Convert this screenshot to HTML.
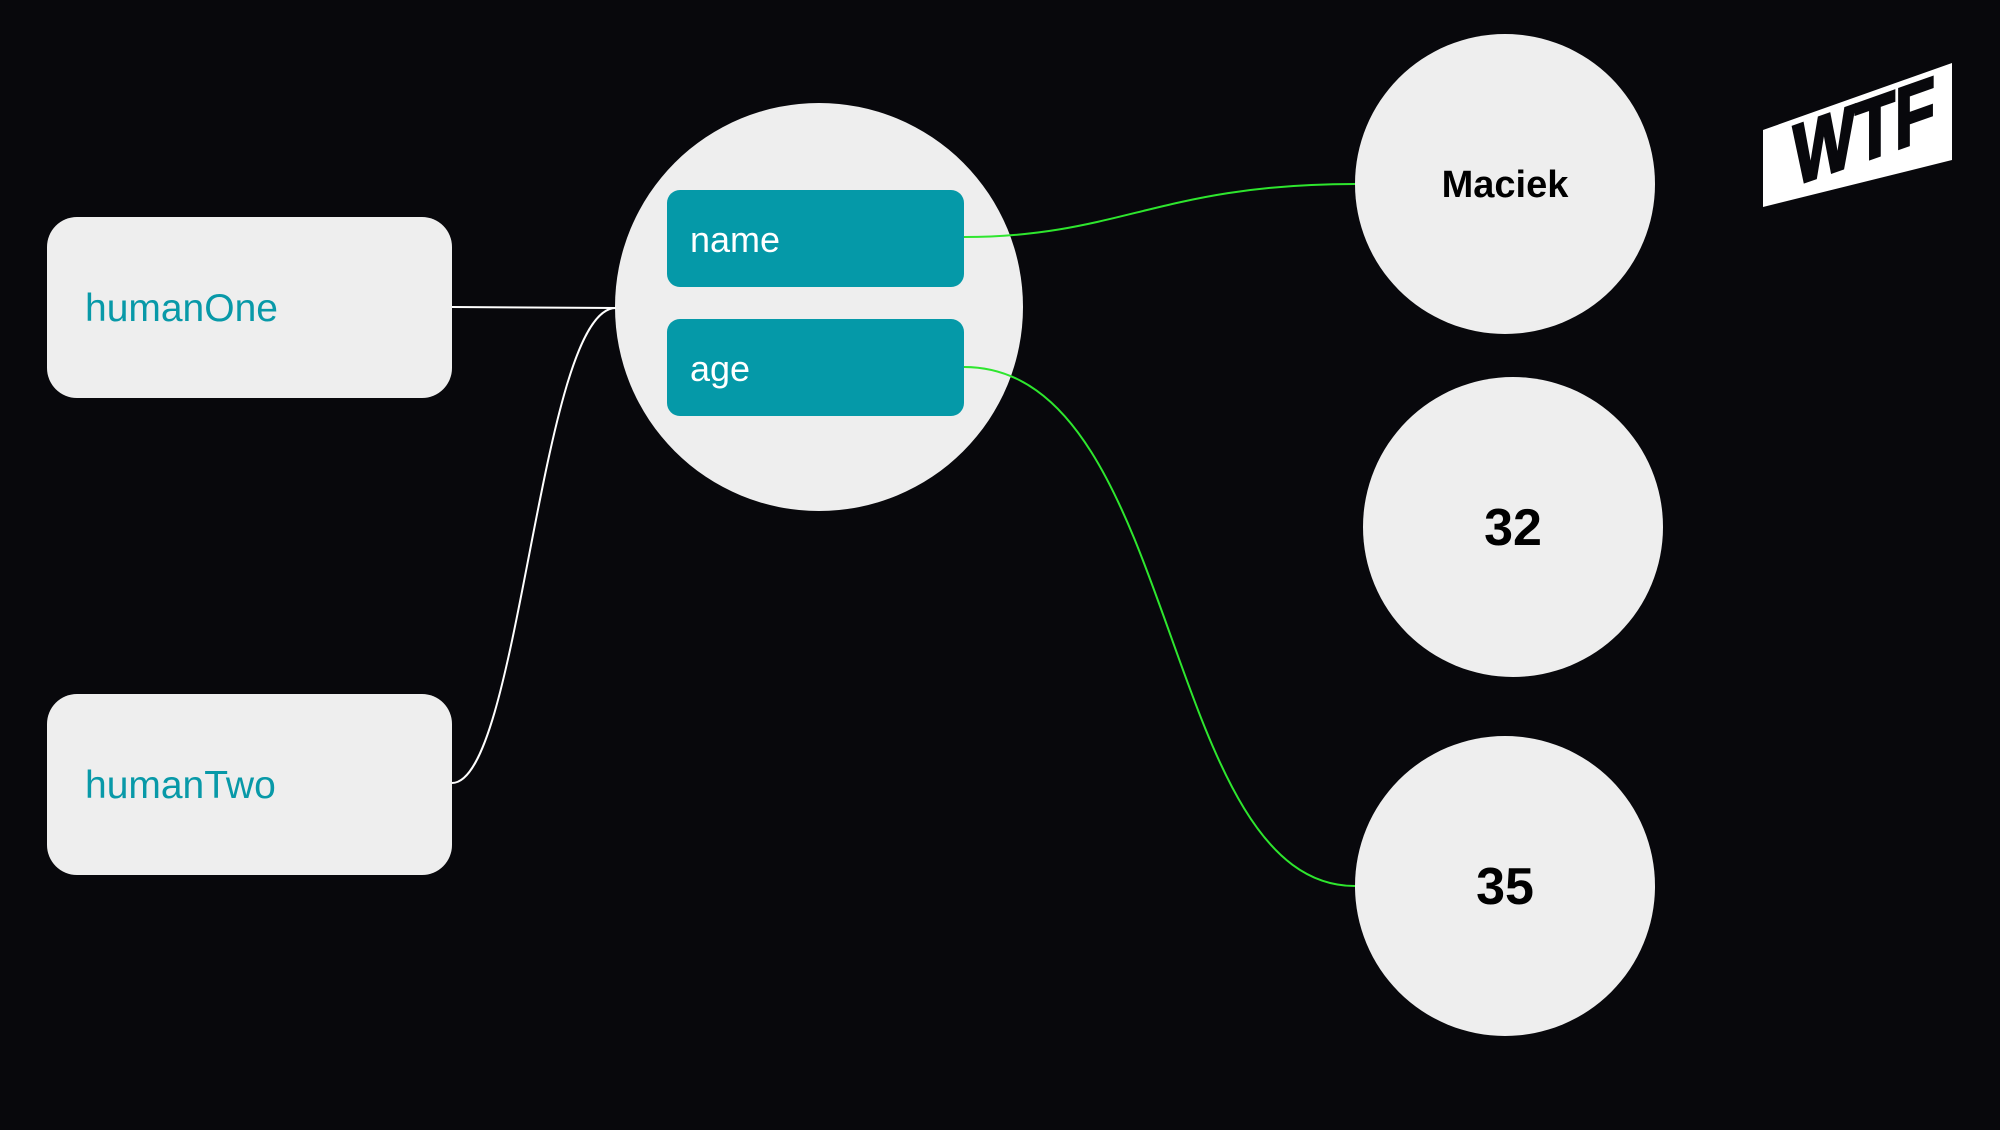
<!DOCTYPE html>
<html><head><style>
body{margin:0;background:#08080c;width:2000px;height:1125px;overflow:hidden;font-family:"Liberation Sans",sans-serif}
</style></head><body>
<svg width="2000" height="1125" xmlns="http://www.w3.org/2000/svg">
<rect width="2000" height="1125" fill="#08080c"/>
<rect x="47" y="217" width="405" height="181" rx="30" fill="#eeeeee"/>
<rect x="47" y="694" width="405" height="181" rx="30" fill="#eeeeee"/>
<text x="85" y="321" font-size="39" fill="#0899a8" font-family="Liberation Sans">humanOne</text>
<text x="85" y="798" font-size="39" fill="#0899a8" font-family="Liberation Sans">humanTwo</text>
<circle cx="819" cy="307" r="204" fill="#eeeeee"/>
<rect x="667" y="190" width="297" height="97" rx="13" fill="#0599a8"/>
<rect x="667" y="319" width="297" height="97" rx="13" fill="#0599a8"/>
<text x="690" y="252" font-size="36" fill="#fff" font-family="Liberation Sans">name</text>
<text x="690" y="381" font-size="36" fill="#fff" font-family="Liberation Sans">age</text>
<circle cx="1505" cy="184" r="150" fill="#eeeeee"/>
<circle cx="1513" cy="527" r="150" fill="#eeeeee"/>
<circle cx="1505" cy="886" r="150" fill="#eeeeee"/>
<text x="1505" y="197" font-size="38" font-weight="bold" text-anchor="middle" fill="#000" font-family="Liberation Sans">Maciek</text>
<text x="1513" y="545" font-size="52" font-weight="bold" text-anchor="middle" fill="#000" font-family="Liberation Sans">32</text>
<text x="1505" y="904" font-size="52" font-weight="bold" text-anchor="middle" fill="#000" font-family="Liberation Sans">35</text>
<path d="M452 307 L616 308" stroke="#fff" stroke-width="2" fill="none"/>
<path d="M452 783 C520 783 540 307 616 308" stroke="#fff" stroke-width="2" fill="none"/>
<path d="M964 237 C1120 237 1160 184 1355 184" stroke="#2ee62e" stroke-width="2" fill="none"/>
<path d="M964 367 C1180 367 1160 886 1355 886" stroke="#2ee62e" stroke-width="2" fill="none"/>
<polygon points="1763,130 1952,63 1952,160 1763,207" fill="#fff"/>
<g transform="translate(1793,186) skewY(-19.5)">
<text x="0" y="0" font-size="86" font-weight="bold" fill="#08080c" font-family="Liberation Sans" textLength="142" lengthAdjust="spacingAndGlyphs" stroke="#08080c" stroke-width="3">WTF</text>
</g>
</svg>
</body></html>
